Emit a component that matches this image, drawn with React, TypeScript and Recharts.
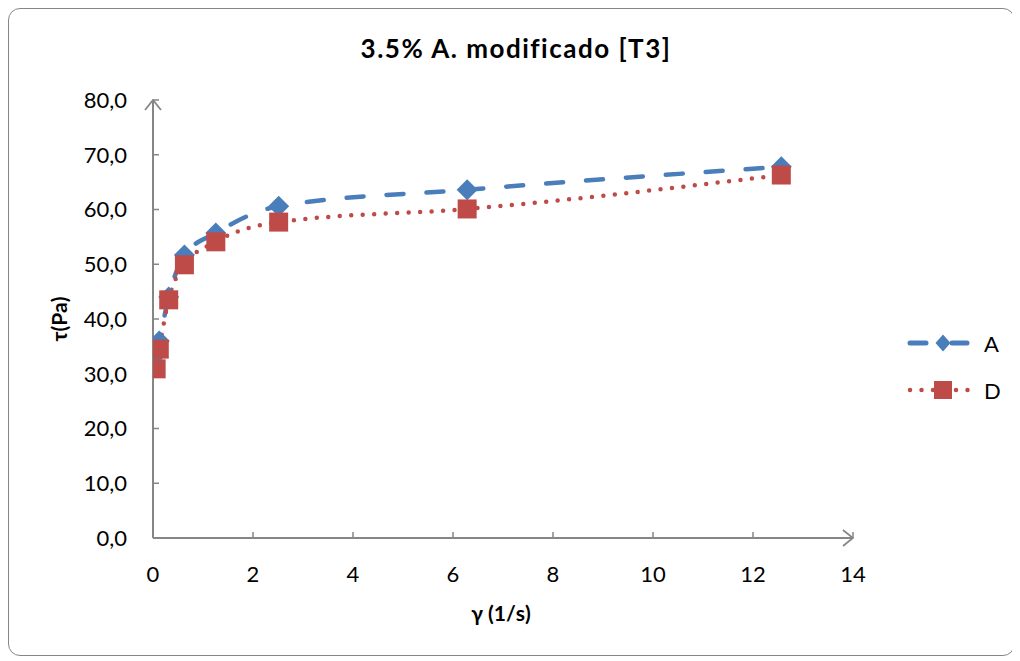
import React from 'react';
import { LineChart, Line, XAxis, YAxis, Label } from 'recharts';

// shear rate (1/s) and shear stress (Pa)
const shearRate = [0.0628, 0.1257, 0.3142, 0.6283, 1.2566, 2.5133, 6.2832, 12.5664];
const tauA = [33.5, 36.0, 44.0, 51.7, 55.7, 60.6, 63.6, 67.8];
const tauD = [30.9, 34.5, 43.5, 49.9, 54.1, 57.7, 60.1, 66.3];
const xTicks = [0, 2, 4, 6, 8, 10, 12, 14];
const yTicks = [0, 10, 20, 30, 40, 50, 60, 70, 80];

const dataA = shearRate.map((x, i) => ({ x, y: tauA[i] }));
const dataD = shearRate.map((x, i) => ({ x, y: tauD[i] }));

const BLUE = '#4A7EBB';
const RED = '#BE4B48';
const AXIS = '#868686';
const FONT = "Lato, 'Open Sans', sans-serif";

const fmt = (v: number) => v.toFixed(1).replace('.', ',');

const renderDiamond = (props: any) => {
  const { cx, cy, index } = props;
  if (cx == null || cy == null) return <g key={`a${index}`} />;
  const r = 10.5;
  return (
    <path
      key={`a${index}`}
      d={`M${cx},${cy - r}L${cx + r},${cy}L${cx},${cy + r}L${cx - r},${cy}Z`}
      fill={BLUE}
    />
  );
};

const renderSquare = (props: any) => {
  const { cx, cy, index } = props;
  if (cx == null || cy == null) return <g key={`d${index}`} />;
  const s = 9.5;
  return <rect key={`d${index}`} x={cx - s} y={cy - s} width={s * 2} height={s * 2} fill={RED} />;
};

const LegendRow = ({ name, kind }: { name: string; kind: 'A' | 'D' }) => (
  <div style={{ display: 'flex', alignItems: 'center', height: 30 }}>
    <svg width={64} height={30}>
      {kind === 'A' ? (
        <>
          <line x1={3} y1={15} x2={19} y2={15} stroke={BLUE} strokeWidth={5} strokeLinecap="round" />
          <line x1={45} y1={15} x2={60} y2={15} stroke={BLUE} strokeWidth={5} strokeLinecap="round" />
          <path d="M36,6.5L43.5,15L36,23.5L28.5,15Z" fill={BLUE} />
        </>
      ) : (
        <>
          <line x1={3} y1={15} x2={62} y2={15} stroke={RED} strokeWidth={4.5} strokeLinecap="round" strokeDasharray="0 11.5" />
          <rect x={27} y={6} width={18} height={18} fill={RED} />
        </>
      )}
    </svg>
    <span style={{ marginLeft: 13, fontSize: 22, fontFamily: FONT, color: '#000' }}>{name}</span>
  </div>
);

export default function App() {
  return (
    <div
      style={{
        position: 'relative',
        width: 1007,
        height: 648,
        border: `1px solid ${AXIS}`,
        borderRadius: 12,
        boxSizing: 'border-box',
        background: '#fff',
      }}
    >
      <svg width={0} height={0} style={{ position: 'absolute' }}>
        <defs>
          <marker
            id="axisArrow"
            viewBox="0 0 12 18"
            refX={11}
            refY={9}
            markerWidth={12}
            markerHeight={18}
            markerUnits="userSpaceOnUse"
            orient="auto-start-reverse"
          >
            <path d="M1,1 L11,9 L1,17" fill="none" stroke={AXIS} strokeWidth={1.8} />
          </marker>
        </defs>
      </svg>

      <div
        style={{
          position: 'absolute',
          top: 22,
          left: 0,
          width: '100%',
          paddingLeft: 9,
          boxSizing: 'border-box',
          textAlign: 'center',
          fontFamily: FONT,
          fontWeight: 700,
          fontSize: 26,
          letterSpacing: 1.5,
          lineHeight: '34px',
          color: '#000',
        }}
      >
        3.5% A. modificado [T3]
      </div>

      <LineChart
        width={1005}
        height={646}
        margin={{ top: 91, right: 161, bottom: 87, left: 0 }}
        style={{ fontFamily: FONT }}
      >
        <XAxis
          dataKey="x"
          type="number"
          domain={[0, 14]}
          ticks={xTicks}
          allowDataOverflow
          height={30}
          tickSize={-6}
          tickMargin={34}
          tick={{ fill: '#000', fontSize: 22 }}
          stroke={AXIS}
          axisLine={{ stroke: AXIS, strokeWidth: 2, markerEnd: 'url(#axisArrow)' }}
          tickLine={{ stroke: AXIS, strokeWidth: 1.5 }}
        >
          <Label
            content={(p: any) => {
              const vb = p.viewBox || { x: 144, y: 529, width: 700 };
              return (
                <text
                  x={vb.x + vb.width / 2 - 2}
                  y={vb.y + 83}
                  textAnchor="middle"
                  fontWeight={700}
                  fontSize={21}
                  fontFamily={FONT}
                  fill="#000"
                >
                  γ (1/s)
                </text>
              );
            }}
          />
        </XAxis>
        <YAxis
          type="number"
          domain={[0, 80]}
          ticks={yTicks}
          width={144}
          tickFormatter={fmt}
          tickSize={-6}
          tickMargin={32}
          tick={{ fill: '#000', fontSize: 22 }}
          stroke={AXIS}
          axisLine={{ stroke: AXIS, strokeWidth: 2, markerStart: 'url(#axisArrow)' }}
          tickLine={{ stroke: AXIS, strokeWidth: 1.5 }}
        >
          <Label
            content={(p: any) => {
              const vb = p.viewBox || { x: 0, y: 91, height: 438 };
              const cy = vb.y + vb.height / 2;
              const cx = vb.x + 49.5;
              return (
                <text
                  x={cx}
                  y={cy}
                  transform={`rotate(-90 ${cx} ${cy})`}
                  textAnchor="middle"
                  dominantBaseline="central"
                  fontWeight={700}
                  fontSize={21}
                  fontFamily={FONT}
                  fill="#000"
                >
                  τ(Pa)
                </text>
              );
            }}
          />
        </YAxis>
        <Line
          data={dataA}
          dataKey="y"
          name="A"
          type="monotone"
          stroke={BLUE}
          strokeWidth={4.5}
          strokeLinecap="round"
          strokeDasharray="17 23"
          dot={renderDiamond}
          activeDot={false}
          isAnimationActive={false}
        />
        <Line
          data={dataD}
          dataKey="y"
          name="D"
          type="monotone"
          stroke={RED}
          strokeWidth={4.5}
          strokeLinecap="round"
          strokeDasharray="0 11.5"
          dot={renderSquare}
          activeDot={false}
          isAnimationActive={false}
        />
      </LineChart>

      <div style={{ position: 'absolute', left: 898, top: 319 }}>
        <LegendRow name="A" kind="A" />
        <div style={{ height: 17 }} />
        <LegendRow name="D" kind="D" />
      </div>
    </div>
  );
}
